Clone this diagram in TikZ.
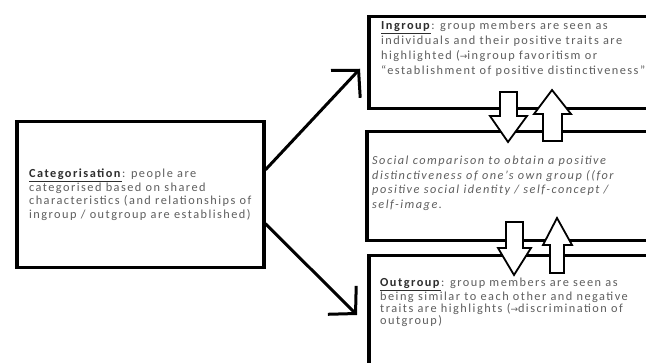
\documentclass[tikz,border=0pt]{standalone}
\usepackage{fontspec}
\setmainfont{Carlito}[LetterSpace=12]
\newfontfamily\symfont{DejaVu Sans}
\usetikzlibrary{arrows.meta}
\definecolor{bodytext}{HTML}{5E5E5E}
\definecolor{headtext}{HTML}{2E2E2E}
\newcommand{\headword}[1]{\textcolor{headtext}{\underline{\textbf{#1}}}}
\newcommand{\tto}{{\symfont\fontsize{9}{9}\selectfont →}}
\tikzset{
  box/.style={draw=black, line width=3.5pt, fill=white, inner sep=0pt, anchor=north west},
  boxtext/.style={inner sep=0pt, align=left, text=bodytext, anchor=north west},
  link/.style={line width=3pt, -{Straight Barb[length=19pt, width=40pt, line width=3pt]}},
  blockarrow/.style={draw=black, line width=1.8pt, fill=white, line join=miter},
}
\begin{document}
\begin{tikzpicture}[x=1pt, y=-1pt]
  \useasboundingbox (0,0) rectangle (646,363);
  \clip (0,0) rectangle (646,363);

  % the four boxes
  \node[box, minimum width=247pt, minimum height=146pt, align=left, text=bodytext,
        font=\fontsize{12.3}{13.6}\selectfont] (cat) at (15,120)
    {\headword{Categorisation}: people are\\
     categorised based on shared\\
     characteristics (and relationships of\\
     ingroup / outgroup are established)};
  \node[box, minimum width=290pt, minimum height=92pt] (in) at (367,15) {};
  \node[box, minimum width=290pt, minimum height=109pt] (mid) at (365,130) {};
  \node[box, minimum width=290pt, minimum height=120pt] (out) at (367,254) {};

  % box texts
  \node[boxtext, font=\fontsize{12.3}{15}\selectfont] (intext) at (381,20.5)
    {\headword{Ingroup}: group members are seen as\\
     individuals and their positive traits are\\
     highlighted (\tto ingroup favoritism or\\
     “establishment of positive distinctiveness”};
  \node[boxtext, font=\fontsize{12.3}{14.5}\itshape\selectfont] (midtext) at (372,156)
    {Social comparison to obtain a positive\\
     distinctiveness of one’s own group ((for\\
     positive social identity / self-concept /\\
     self-image.};
  \node[boxtext, font=\fontsize{12.3}{12.3}\selectfont] (outtext) at (380,278)
    {\headword{Outgroup}: group members are seen as\\
     being similar to each other and negative\\
     traits are highlights (\tto discrimination of\\
     outgroup)};

  % links from categorisation to the two groups
  \coordinate (inend) at ([xshift=-7pt, yshift=-6pt]in.west);
  \coordinate (outend) at ([xshift=-10pt]out.west |- 0,315);
  \draw[link] ([yshift=25pt]cat.east) -- (inend);
  \draw[link] ([yshift=-29pt]cat.east) -- (outend);

  % exchange arrows between ingroup and comparison
  \draw[blockarrow] (500,92) -- (517,92) -- (517,116) -- (527,116) -- (508,142)
    -- (490,116) -- (500,116) -- cycle;
  \draw[blockarrow] (543,141) -- (562,141) -- (562,114) -- (571,114) -- (552,90)
    -- (534,114) -- (543,114) -- cycle;

  % exchange arrows between comparison and outgroup
  \draw[blockarrow] (506,222) -- (523,222) -- (523,248) -- (531,248) -- (514,275)
    -- (498,248) -- (506,248) -- cycle;
  \draw[blockarrow] (550,273) -- (564,273) -- (564,245) -- (572,245) -- (557,218)
    -- (543,245) -- (550,245) -- cycle;
\end{tikzpicture}
\end{document}
